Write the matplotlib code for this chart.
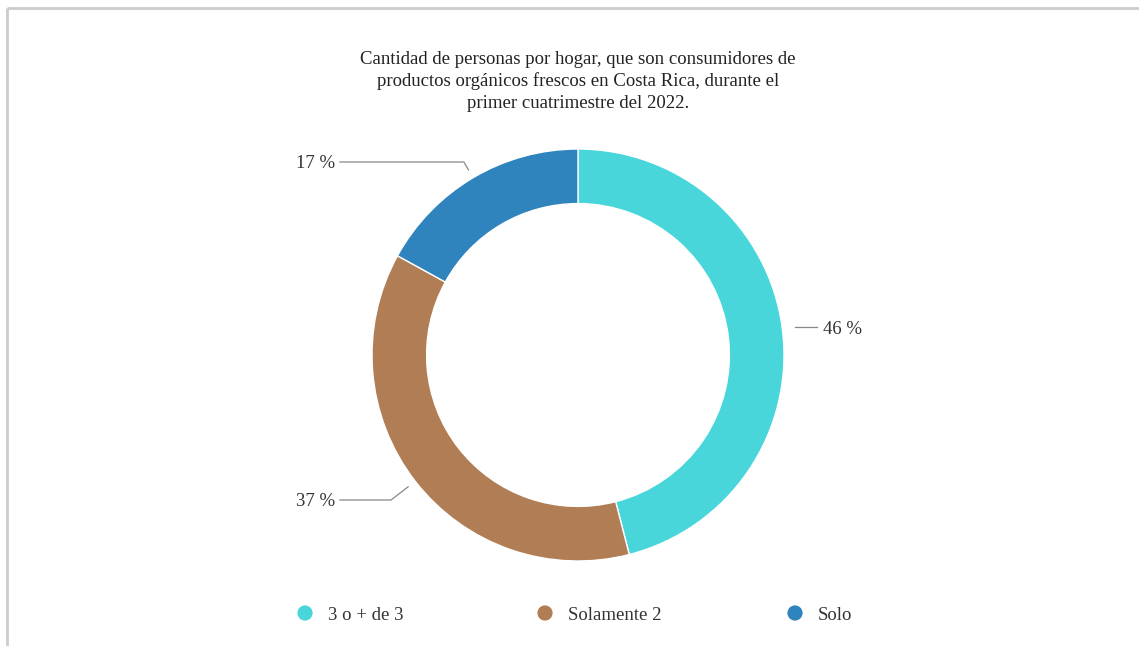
import matplotlib.pyplot as plt
import numpy as np

# data
categories = ["3 o + de 3", "Solamente 2", "Solo"]
values = [46, 37, 17]
colors = ["#49d6db", "#b07d55", "#3084bd"]
title_lines = ["Cantidad de personas por hogar, que son consumidores de",
               "productos orgánicos frescos en Costa Rica, durante el",
               "primer cuatrimestre del 2022."]

W, H = 1139, 646
plt.rcParams['font.family'] = ['Liberation Serif', 'DejaVu Serif']

fig = plt.figure(figsize=(W / 100, H / 100), dpi=100)
ax = fig.add_axes([0, 0, 1, 1])

# frame lines (top and left)
ax.plot([7, W], [H - 8, H - 8], color="#cccccc", lw=2, solid_capstyle='butt')
ax.plot([7, 7], [0, H - 8], color="#cccccc", lw=2, solid_capstyle='butt')

cx, cy, R = 578, H - 355, 206
wedges, _ = ax.pie(values, colors=colors, startangle=90, counterclock=False,
                   center=(cx, cy), radius=R, frame=True,
                   wedgeprops=dict(width=R * 0.265, edgecolor='white', linewidth=1))
ax.set_xlim(0, W)
ax.set_ylim(0, H)
ax.axis('off')

# title, one text per line for even spacing
for i, line in enumerate(title_lines):
    ax.text(cx, H - 57 - 22.5 * i, line, ha='center', va='center_baseline',
            fontsize=13.5, color="#222222")

# percentage labels with leader lines
label_x = [823, 335, 335]
label_y = [H - 327, H - 500, H - 162]
for w, v, lx, ly in zip(wedges, values, label_x, label_y):
    ang = np.deg2rad((w.theta1 + w.theta2) / 2)
    d = np.array([np.cos(ang), np.sin(ang)])
    p0 = np.array([cx, cy]) + (R + 9) * d
    if abs(d[1]) < 0.3:
        xs = [p0[0] + 4, lx - 6]
        ys = [ly, ly]
        ha = 'left'
    else:
        r1 = abs((ly - cy) / d[1])
        p1 = np.array([cx, cy]) + r1 * d
        xs = [p0[0], p1[0], lx + 5]
        ys = [p0[1], p1[1], p1[1]]
        ha = 'right'
    ax.plot(xs, ys, color="#888888", lw=0.9)
    ax.text(lx, ly, f"{v} %", ha=ha, va='center_baseline', fontsize=13.5, color="#333333")

# legend
leg_x = [305, 545, 795]
for x, c, name in zip(leg_x, colors, categories):
    ax.scatter([x], [H - 613], s=120, color=c, edgecolors='none')
    ax.text(x + 23, H - 613, name, ha='left', va='center_baseline', fontsize=13.5, color="#333333")

fig.savefig("out.png", dpi=100)
